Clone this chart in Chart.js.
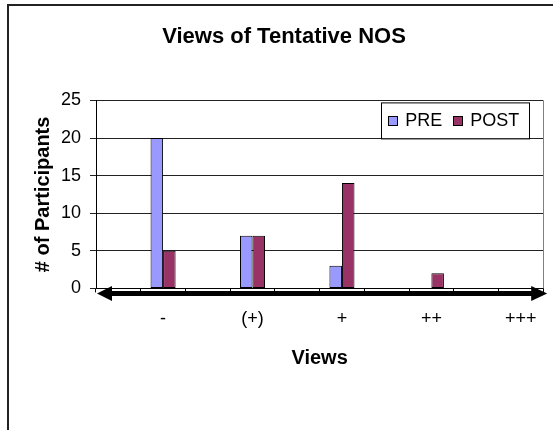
<!DOCTYPE html>
<html>
<head>
<meta charset="utf-8">
<title>Views of Tentative NOS</title>
<script src="https://cdn.jsdelivr.net/npm/chart.js@4"></script>
<style>
  html, body { margin: 0; padding: 0; background: #fff; }
  canvas { display: block; }
</style>
</head>
<body>
<canvas id="nosChart" width="553" height="430"></canvas>
<script>
// data (blank slots keep the spacing between groups)
const categories = ['', '-', '', '(+)', '', '+', '', '++', '', '+++'];
const preValues = [null, 20, null, 7, null, 3, null, 0, null, 0];
const postValues = [null, 5, null, 7, null, 14, null, 2, null, 0];
const yTicks = [0, 5, 10, 15, 20, 25];

(() => {
  'use strict'

  const FONT = "'Liberation Sans', Arial, sans-serif";

  // white page + outer frame
  const frame = {
    id: 'frame',
    beforeDraw(chart) {
      const ctx = chart.ctx;
      ctx.save();
      ctx.fillStyle = '#fff';
      ctx.fillRect(0, 0, chart.width, chart.height);
      ctx.strokeStyle = '#222';
      ctx.lineWidth = 2;
      ctx.beginPath();
      ctx.moveTo(8, chart.height);
      ctx.lineTo(8, 5);
      ctx.lineTo(chart.width, 5);
      ctx.stroke();
      ctx.restore();
    },
    afterDraw(chart) {
      const ctx = chart.ctx;
      const ca = chart.chartArea;
      ctx.save();
      // grey right edge of plot area
      ctx.strokeStyle = '#808080';
      ctx.lineWidth = 1;
      ctx.beginPath();
      ctx.moveTo(Math.round(ca.right) + 0.5, ca.top);
      ctx.lineTo(Math.round(ca.right) + 0.5, ca.bottom);
      ctx.stroke();

      // double headed arrow under the category axis
      const y = ca.bottom + 5;
      const x1 = ca.left + 1;
      const x2 = ca.right + 4;
      ctx.fillStyle = '#000';
      ctx.strokeStyle = '#000';
      ctx.lineWidth = 5;
      ctx.beginPath();
      ctx.moveTo(x1 + 10, y);
      ctx.lineTo(x2 - 10, y);
      ctx.stroke();
      ctx.beginPath();
      ctx.moveTo(x1, y);
      ctx.lineTo(x1 + 15, y - 7.5);
      ctx.lineTo(x1 + 15, y + 7.5);
      ctx.closePath();
      ctx.fill();
      ctx.beginPath();
      ctx.moveTo(x2, y);
      ctx.lineTo(x2 - 16, y - 7.5);
      ctx.lineTo(x2 - 16, y + 7.5);
      ctx.closePath();
      ctx.fill();
      ctx.restore();
    }
  };

  // boxed legend inside the plot, top right
  const boxLegend = {
    id: 'boxLegend',
    afterDatasetsDraw(chart) {
      const ctx = chart.ctx;
      const ca = chart.chartArea;
      const sets = chart.data.datasets;
      ctx.save();
      ctx.font = '18px ' + FONT;
      ctx.textBaseline = 'middle';
      let w = 7 + 10;
      sets.forEach((ds, i) => {
        w += 10 + 7 + ctx.measureText(ds.label).width + (i < sets.length - 1 ? 11 : 0);
      });
      const h = 36;
      const right = ca.right - 14;
      const left = right - w;
      const top = ca.top + 2;
      ctx.fillStyle = '#fff';
      ctx.fillRect(left, top, w, h);
      ctx.strokeStyle = '#000';
      ctx.lineWidth = 1;
      ctx.strokeRect(Math.round(left) + 0.5, top + 0.5, Math.round(w), h);
      let x = left + 7;
      const cy = top + h / 2;
      sets.forEach((ds) => {
        ctx.fillStyle = ds.backgroundColor;
        ctx.fillRect(Math.round(x), Math.round(cy - 4), 10, 10);
        ctx.strokeRect(Math.round(x) + 0.5, Math.round(cy - 4) + 0.5, 9, 9);
        x += 10 + 7;
        ctx.fillStyle = '#000';
        ctx.fillText(ds.label, x, cy + 1);
        x += ctx.measureText(ds.label).width + 11;
      });
      ctx.restore();
    }
  };

  Chart.defaults.font.family = FONT;
  Chart.defaults.color = '#000';

  new Chart(document.getElementById('nosChart'), {
    type: 'bar',
    data: {
      labels: categories,
      datasets: [{
        label: 'PRE',
        data: preValues,
        backgroundColor: '#9999FF',
        borderColor: '#000',
        borderWidth: 1,
        borderSkipped: false
      }, {
        label: 'POST',
        data: postValues,
        backgroundColor: '#993366',
        borderColor: '#000',
        borderWidth: 1,
        borderSkipped: false
      }]
    },
    options: {
      responsive: false,
      animation: false,
      categoryPercentage: 0.56,
      barPercentage: 1,
      layout: {
        padding: { left: 23, right: 8, top: 0, bottom: 56 }
      },
      plugins: {
        legend: { display: false },
        tooltip: { enabled: false },
        title: {
          display: true,
          text: 'Views of Tentative NOS',
          font: { size: 22, weight: 'bold' },
          color: '#000',
          padding: { top: 24, bottom: 50 }
        }
      },
      scales: {
        x: {
          offset: true,
          grid: {
            drawOnChartArea: false,
            drawTicks: true,
            tickLength: 4,
            color: '#000',
            offset: true
          },
          border: { display: true, color: '#000', width: 1 },
          ticks: {
            autoSkip: false,
            maxRotation: 0,
            padding: 16,
            font: { size: 18 }
          },
          title: {
            display: true,
            text: 'Views',
            font: { size: 20, weight: 'bold' },
            padding: { top: 0, bottom: 4 }
          }
        },
        y: {
          min: 0,
          max: 25,
          afterBuildTicks(scale) {
            scale.ticks = yTicks.map(v => ({ value: v }));
          },
          afterFit(scale) {
            scale.width = 73;
          },
          grid: {
            color: '#222',
            tickLength: 6,
            drawTicks: true
          },
          border: { display: true, color: '#000', width: 1 },
          ticks: {
            padding: 9,
            font: { size: 18 }
          },
          title: {
            display: true,
            text: '# of Participants',
            font: { size: 20, weight: 'bold' },
            padding: { top: 8, bottom: 0 }
          }
        }
      }
    },
    plugins: [frame, boxLegend]
  });
})();
</script>
</body>
</html>
